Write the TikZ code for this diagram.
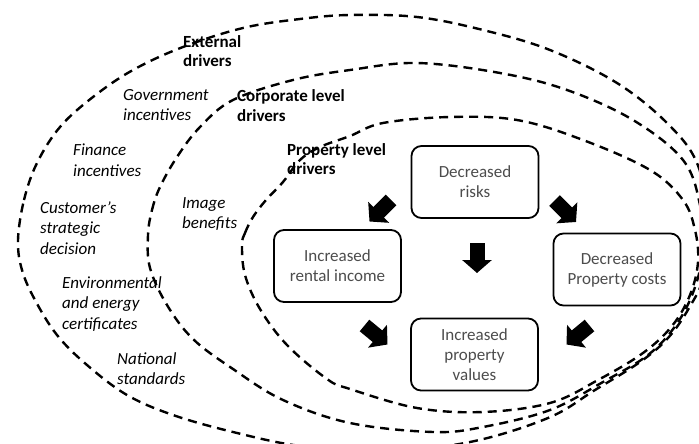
\documentclass[tikz,border=0pt]{standalone}
\usepackage{fontspec}
\setmainfont{Carlito}
\usetikzlibrary{arrows.meta}
\begin{document}
\begin{tikzpicture}[x=1pt,y=-1pt,
  ring/.style={line width=2.4pt, dash pattern=on 9pt off 6pt},
  lbl/.style={anchor=west, align=left, inner sep=0pt, font=\fontsize{17}{19.5}\selectfont\bfseries},
  itl/.style={anchor=west, align=left, inner sep=0pt, font=\fontsize{17}{20.5}\selectfont\itshape},
  box/.style={draw, line width=1.8pt, rounded corners=10pt, minimum width=127pt, minimum height=72pt, align=center, inner sep=0pt, text=black!70, font=\fontsize{17}{20}\selectfont},
  blk/.style={line width=15pt, -{Triangle[length=13pt,width=29pt]}}]
\useasboundingbox (0,0) rectangle (699,444);
\clip (0,0) rectangle (699,444);
% outer ring
\draw[ring] plot[smooth cycle, tension=0.6] coordinates {
 (18,240) (24,200) (37,163) (60,127) (93,97) (133,70) (183,47) (243,28) (300,19) (350,15)
 (417,17) (483,30) (550,50) (617,83) (667,123) (697,163) (708,220) (704,275) (689,308)
 (668,338) (640,362) (595,390) (548,418) (470,442) (380,452) (300,446) (233,432) (173,415)
 (127,395) (87,365) (57,335) (35,300) (22,270)};
% middle ring
\draw[ring] plot[smooth cycle, tension=0.6] coordinates {
 (148,235) (152,210) (160,187) (177,157) (200,127) (233,100) (293,80) (350,70) (417,63)
 (500,73) (567,90) (633,120) (683,160) (700,205) (703,250) (694,290) (676,325) (648,355)
 (603,382) (550,410) (483,427) (433,432) (350,423) (283,400) (233,369) (193,339) (167,305) (150,268)};
% inner ring
\draw[ring] plot[smooth cycle, tension=0.6] coordinates {
 (242,245) (245,233) (253,217) (266,200) (283,182) (300,160) (320,147) (350,136) (383,123)
 (450,117) (517,120) (583,140) (650,170) (683,200) (695,230) (698,262) (690,295) (672,326)
 (643,353) (598,380) (550,403) (483,412) (417,408) (350,389) (327,379) (287,345) (260,309) (245,275)};
% ring labels
\node[lbl] (ext) at (183,51) {External\\drivers};
\node[lbl] (corp) at (237,105.5) {Corporate level\\drivers};
\node[lbl] (prop) at (287,159) {Property level\\drivers};
% external drivers
\node[itl] (gov) at (123,105) {Government\\incentives};
\node[itl] (fin) at (73,160) {Finance\\incentives};
\node[itl] (cust) at (40,228) {Customer's\\strategic\\decision};
\node[itl] (env) at (62,304) {Environmental\\and energy\\certificates};
\node[itl] (nat) at (117,368.5) {National\\standards};
% corporate
\node[itl] (img) at (182,214) {Image\\benefits};
% boxes
\node[box] (risk) at (475,182) {Decreased\\risks};
\node[box] (rent) at (337.5,266) {Increased\\rental income};
\node[box] (cost) at (617,269.5) {Decreased\\Property costs};
\node[box] (val) at (474.5,354.5) {Increased\\property\\values};
% block arrows
\coordinate (a1s) at (391,200); \coordinate (a1e) at (369.5,221.5);
\coordinate (a2s) at (477,243); \coordinate (a2e) at (477,273);
\coordinate (a3s) at (554.5,200.5); \coordinate (a3e) at (576,222);
\coordinate (a4s) at (364.5,325.5); \coordinate (a4e) at (387.5,344.5);
\coordinate (a5s) at (589.5,325.5); \coordinate (a5e) at (566.5,344.5);
\draw[blk] (a1s) -- (a1e);
\draw[blk] (a2s) -- (a2e);
\draw[blk] (a3s) -- (a3e);
\draw[blk] (a4s) -- (a4e);
\draw[blk] (a5s) -- (a5e);
\end{tikzpicture}
\end{document}
